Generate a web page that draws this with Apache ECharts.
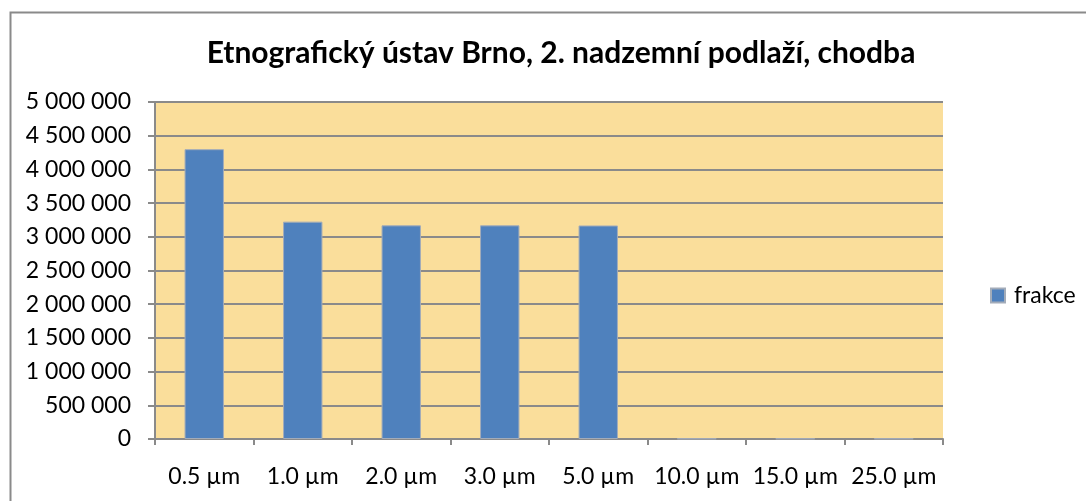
<!DOCTYPE html>
<html lang="cs">
<head>
    <meta charset="UTF-8">
    <title>Etnografický ústav Brno</title>
    <script src="https://cdn.jsdelivr.net/npm/echarts@6/dist/echarts.min.js"></script>
    <style>
        html, body { margin: 0; padding: 0; background: #fff; }
        #main { width: 1086px; height: 501px; }
    </style>
</head>
<body>
<div id="main"></div>

<script>
    // data
    var categories = ['0.5 µm', '1.0 µm', '2.0 µm', '3.0 µm', '5.0 µm', '10.0 µm', '15.0 µm', '25.0 µm'];
    var frakce = [4300000, 3225000, 3170000, 3170000, 3168000, 6000, 6000, 6000];
    var seriesName = 'frakce';
    var titleText = 'Etnografický ústav Brno, 2. nadzemní podlaží, chodba';

    var font = 'Lato, "Open Sans", sans-serif';

    function spaced(v) {
        return String(v).replace(/\B(?=(\d{3})+(?!\d))/g, ' ');
    }

    var myChart = echarts.init(document.getElementById('main'));

    var option = {
        animation: false,
        backgroundColor: '#ffffff',
        title: {
            text: titleText,
            left: 556,
            textAlign: 'center',
            top: 33,
            textStyle: {
                fontFamily: font,
                fontWeight: 'bold',
                fontSize: 30,
                color: '#000'
            }
        },
        legend: {
            data: [seriesName],
            left: 985,
            top: 279,
            itemWidth: 14,
            itemHeight: 14,
            icon: 'rect',
            textStyle: {
                fontFamily: font,
                fontSize: 23,
                color: '#000',
                padding: [0, 0, 0, 4]
            }
        },
        graphic: [{
            type: 'rect',
            left: 8,
            top: 10,
            shape: { width: 1200, height: 600 },
            style: { fill: 'none', stroke: '#8a8a8a', lineWidth: 2 },
            silent: true,
            z: -1
        }],
        grid: {
            left: 155,
            right: 143,
            top: 102,
            bottom: 62,
            show: true,
            backgroundColor: '#fade9b',
            borderWidth: 0
        },
        xAxis: {
            type: 'category',
            data: categories,
            axisLine: { lineStyle: { color: '#8a8a8a', width: 2 } },
            axisTick: { show: true, length: 6, inside: false, interval: 0, lineStyle: { color: '#8a8a8a', width: 2 } },
            axisLabel: {
                interval: 0,
                margin: 26,
                fontFamily: font,
                fontSize: 23,
                color: '#000'
            }
        },
        yAxis: {
            type: 'value',
            min: 0,
            max: 5000000,
            interval: 500000,
            axisLine: { show: true, lineStyle: { color: '#8a8a8a', width: 2 } },
            axisTick: { show: true, length: 7, lineStyle: { color: '#8a8a8a', width: 2 } },
            splitLine: { show: true, lineStyle: { color: '#8a8a8a', width: 2 } },
            axisLabel: {
                margin: 24,
                fontFamily: font,
                fontSize: 23,
                color: '#000',
                formatter: function (v) { return spaced(v); }
            }
        },
        series: [{
            name: seriesName,
            type: 'bar',
            data: frakce,
            barWidth: '40%',
            itemStyle: {
                color: '#4f81bd',
                borderColor: '#a3acb9',
                borderWidth: 1
            }
        }]
    };

    myChart.setOption(option, true);
</script>
</body>
</html>
